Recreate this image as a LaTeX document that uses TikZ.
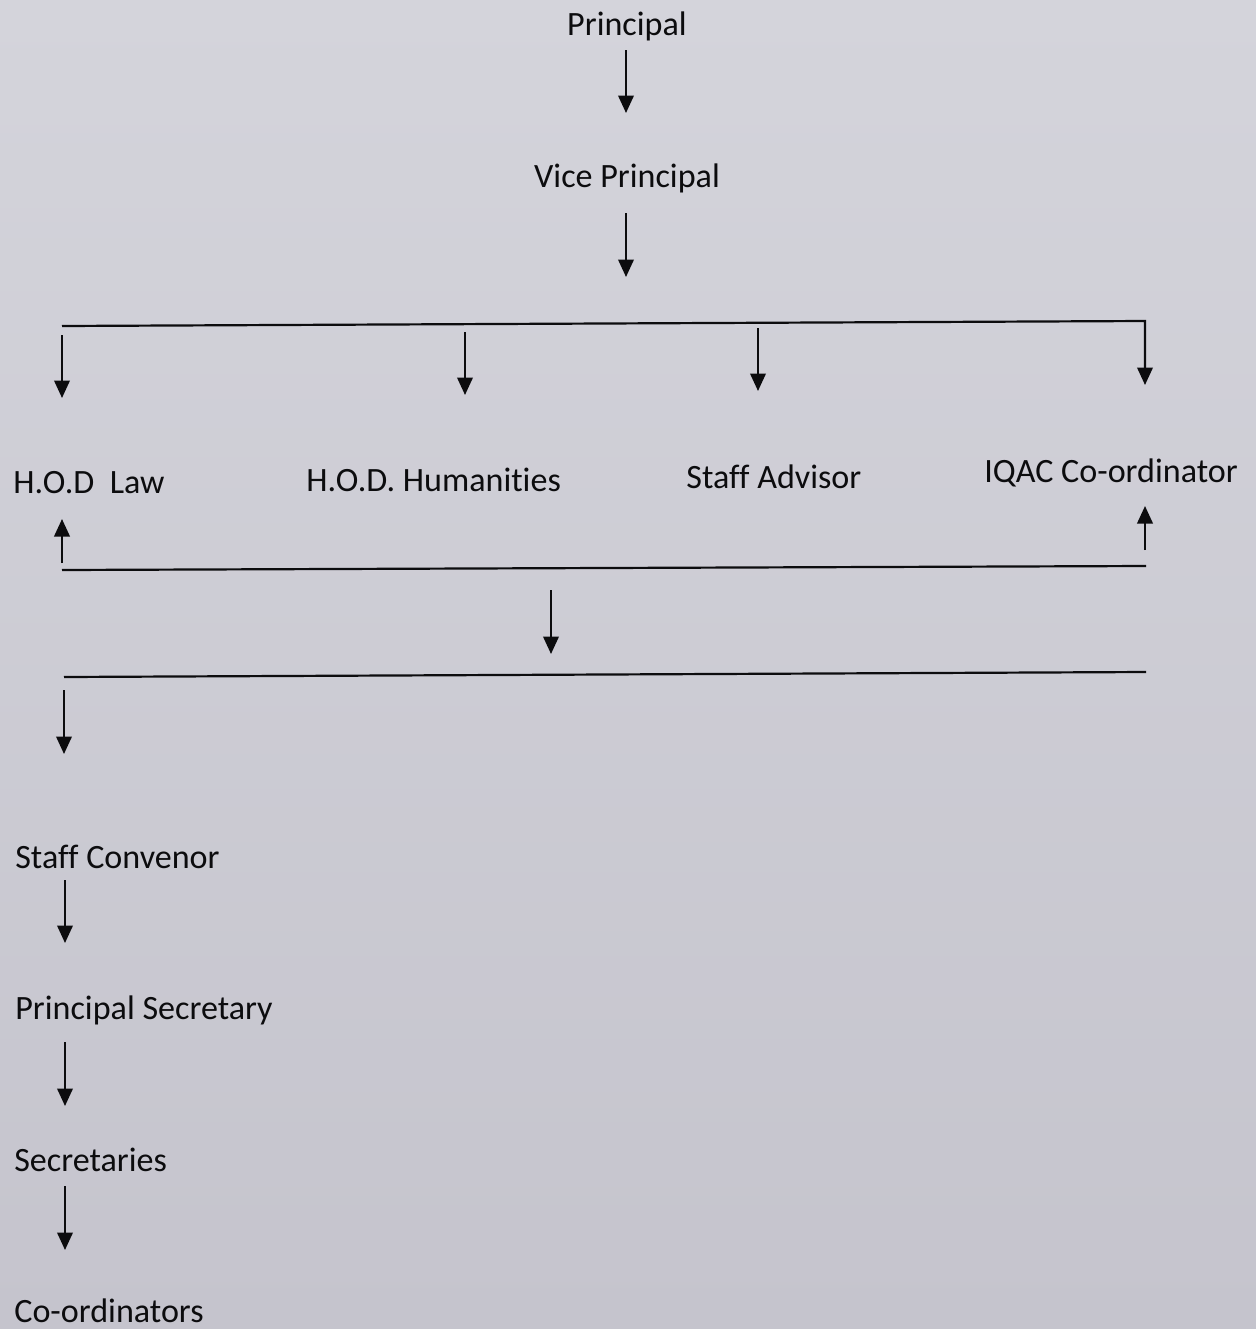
\documentclass[tikz,border=0pt]{standalone}
\usepackage{fontspec}
\newfontfamily\chartfont[Ligatures=NoCommon]{Carlito}
\usepackage{tikz}
\usetikzlibrary{arrows.meta}

\definecolor{paperTop}{RGB}{212,212,219}
\definecolor{paperBot}{RGB}{197,196,205}
\definecolor{ink}{RGB}{12,12,14}

\begin{document}
\begin{tikzpicture}[x=0.02cm, y=-0.02cm, >={Triangle[length=0.35cm,width=0.31cm]},
  post/.style={font=\chartfont\fontsize{19.4pt}{23pt}\selectfont, text=ink, inner sep=0pt},
  arr/.style={->, line width=1.25pt, draw=ink},
  bar/.style={line width=1.25pt, draw=ink}]

  % Sheet of paper
  \shade[top color=paperTop, bottom color=paperBot] (0,0) rectangle (1256,1329);
  \useasboundingbox (0,0) rectangle (1256,1329);

  % Top of the chart
  \node[post, anchor=base] (principal) at (627,35) {Principal};
  \node[post, anchor=base] (vice) at (627,187) {Vice Principal};

  % Heads of the four branches
  \node[post, anchor=base west] (hodlaw) at (13,493) {H.O.D\ \ Law};
  \node[post, anchor=base west] (hodhum) at (306,491) {H.O.D. Humanities};
  \node[post, anchor=base west] (advisor) at (686,488) {Staff Advisor};
  \node[post, anchor=base west] (iqac) at (984,482) {IQAC Co-ordinator};

  % Lower posts
  \node[post, anchor=base west] (convenor) at (15,868) {Staff Convenor};
  \node[post, anchor=base west] (psec) at (15,1019) {Principal Secretary};
  \node[post, anchor=base west] (secs) at (14,1171) {Secretaries};
  \node[post, anchor=base west] (coord) at (14,1322) {Co-ordinators};

  % Ends of the three bars
  \coordinate (topL) at (62,326);
  \coordinate (topR) at (1145,321);
  \coordinate (midL) at (62,570);
  \coordinate (midR) at (1146,566);
  \coordinate (lowL) at (64,677);
  \coordinate (lowR) at (1146,672);

  % Principal to Vice Principal to top bar
  \draw[arr] (626,50) -- (626,113);
  \draw[arr] (626,213) -- (626,277);

  % Top bar and its branches
  \draw[arr] (topL) -- (topR) -- (1145,385);
  \draw[arr] (62,335) -- (62,398);
  \draw[arr] (465,332) -- (465,395);
  \draw[arr] (758,328) -- (758,391);

  % Middle bar, pointing up to H.O.D Law and IQAC
  \draw[bar] (midL) -- (midR);
  \draw[arr] (62,563) -- (62,519);
  \draw[arr] (1145,550) -- (1145,506);
  \draw[arr] (551,590) -- (551,654);

  % Lower bar and the chain below it
  \draw[bar] (lowL) -- (lowR);
  \draw[arr] (64,690) -- (64,754);
  \draw[arr] (65,880) -- (65,943);
  \draw[arr] (65,1042) -- (65,1106);
  \draw[arr] (65,1186) -- (65,1250);

\end{tikzpicture}
\end{document}
